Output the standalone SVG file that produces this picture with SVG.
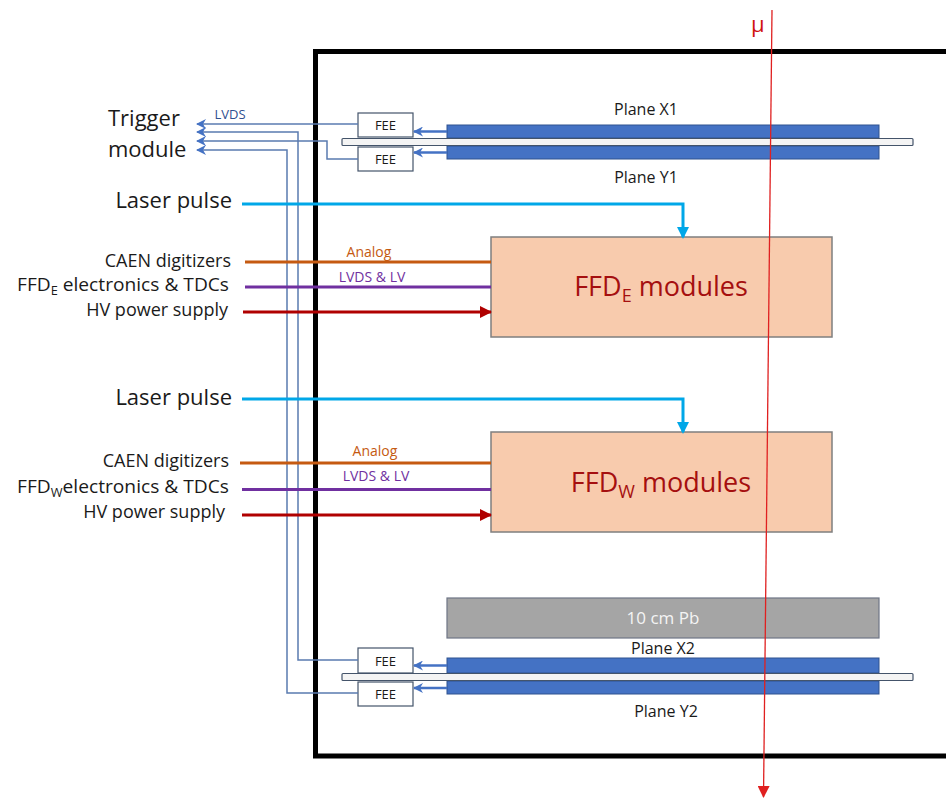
<svg xmlns="http://www.w3.org/2000/svg" width="946" height="798" viewBox="0 0 946 798">
<style>
text{font-family:"Open Sans","Liberation Sans",sans-serif;fill:#1a1a1a}
.lbl{font-size:18px;text-anchor:end}
.big{font-size:22px}
.fee{fill:#fff;stroke:#44546A;stroke-width:1.2}
.feet{font-size:13px;text-anchor:middle}
.plane{fill:#4472C4;stroke:#2F528F;stroke-width:1}
.bar{fill:#F4F4F4;stroke:#44546A;stroke-width:1.2}
.ffd{fill:#F8CBAD;stroke:#7F7F7F;stroke-width:1.5}
.ffdt{font-size:27px;fill:#A50F0F;text-anchor:middle}
.pl{font-size:16px;text-anchor:middle}
.trig{fill:none;stroke:#5A7BB0;stroke-width:1.5}
.pa{fill:none;stroke:#4472C4;stroke-width:2.5}
.laser{fill:none;stroke:#00A7E8;stroke-width:3}
.analog{stroke:#C55A11;stroke-width:3}
.lvds{stroke:#7030A0;stroke-width:3}
.hv{stroke:#B00000;stroke-width:3}
.small{font-size:14px;text-anchor:middle}
</style>
<defs>
<marker id="mBlue" markerUnits="userSpaceOnUse" markerWidth="10" markerHeight="10" refX="9" refY="5" orient="auto"><path d="M0,0 L10,5 L0,10 L3,5 Z" fill="#4472C4"/></marker>
<marker id="mLaser" markerUnits="userSpaceOnUse" markerWidth="12" markerHeight="12" refX="10" refY="6" orient="auto"><path d="M0,0 L12,6 L0,12 Z" fill="#00A7E8"/></marker>
<marker id="mRed" markerUnits="userSpaceOnUse" markerWidth="12" markerHeight="12" refX="11" refY="6" orient="auto"><path d="M0,0 L12,6 L0,12 Z" fill="#B00000"/></marker>
<marker id="mMu" markerUnits="userSpaceOnUse" markerWidth="12" markerHeight="12" refX="11" refY="6" orient="auto"><path d="M0,0 L12,6 L0,12 Z" fill="#E02020"/></marker>
</defs>
<rect width="946" height="798" fill="#fff"/>

<g id="enclosure">
<path d="M946,51.5 H315.5 V756 H946" fill="none" stroke="#000" stroke-width="5"/>
</g>

<g id="trigger-module">
<text class="big" x="108" y="126">Trigger</text>
<text class="big" x="108" y="157">module</text>
</g>

<g id="plane-x1">
<rect class="plane" x="447" y="125" width="432" height="13"/>
<text class="pl" x="646" y="115">Plane X1</text>
</g>
<g id="plane-y1">
<rect class="plane" x="447" y="146" width="432" height="13"/>
<text class="pl" x="646" y="183">Plane Y1</text>
</g>
<g id="bar-top"><rect class="bar" x="342" y="138.5" width="571" height="7" rx="1"/></g>
<g id="fee-x1"><rect class="fee" x="358" y="113" width="55" height="24"/><text class="feet" x="385.5" y="130">FEE</text></g>
<g id="fee-y1"><rect class="fee" x="358" y="147" width="55" height="24"/><text class="feet" x="385.5" y="164">FEE</text></g>

<g id="ffd-e">
<rect class="ffd" x="491" y="237" width="341" height="100"/>
<text class="ffdt" x="661" y="296">FFD<tspan font-size="18" dy="6">E</tspan><tspan dy="-6"> modules</tspan></text>
</g>
<g id="ffd-w">
<rect class="ffd" x="491" y="432" width="341" height="100"/>
<text class="ffdt" x="661" y="492">FFD<tspan font-size="18" dy="6">W</tspan><tspan dy="-6"> modules</tspan></text>
</g>

<g id="pb">
<rect x="447" y="598" width="432" height="40" fill="#A5A5A5" stroke="#6E7585" stroke-width="1.2"/>
<text x="663" y="624" font-size="17" fill="#F4F4F4" style="fill:#F4F4F4" text-anchor="middle">10 cm Pb</text>
</g>

<g id="plane-x2">
<rect class="plane" x="447" y="658" width="432" height="15"/>
<text class="pl" x="663" y="654">Plane X2</text>
</g>
<g id="plane-y2">
<rect class="plane" x="447" y="681" width="432" height="13"/>
<text class="pl" x="666" y="717">Plane Y2</text>
</g>
<g id="bar-bottom"><rect class="bar" x="342" y="673.5" width="571" height="7" rx="1"/></g>
<g id="fee-x2"><rect class="fee" x="358" y="648" width="55" height="25"/><text class="feet" x="385.5" y="665.5">FEE</text></g>
<g id="fee-y2"><rect class="fee" x="358" y="682" width="55" height="24"/><text class="feet" x="385.5" y="699">FEE</text></g>

<g id="sources-e">
<text class="big" x="232" y="208" text-anchor="end">Laser pulse</text>
<text class="lbl" x="231" y="267">CAEN digitizers</text>
<text class="lbl" x="229" y="291" textLength="212" lengthAdjust="spacingAndGlyphs">FFD<tspan font-size="12" dy="4">E</tspan><tspan dy="-4"> electronics &amp; TDCs</tspan></text>
<text class="lbl" x="228" y="316">HV power supply</text>
</g>
<g id="sources-w">
<text class="big" x="232" y="405" text-anchor="end">Laser pulse</text>
<text class="lbl" x="229" y="467">CAEN digitizers</text>
<text class="lbl" x="229" y="493" textLength="212" lengthAdjust="spacingAndGlyphs">FFD<tspan font-size="12" dy="4">W</tspan><tspan dy="-4">electronics &amp; TDCs</tspan></text>
<text class="lbl" x="225" y="518">HV power supply</text>
</g>

<g id="connectors">
<path class="trig" d="M358,124 H197" marker-end="url(#mBlue)"/>
<path class="trig" d="M358,660 H298 V132 H197" marker-end="url(#mBlue)"/>
<path class="trig" d="M358,159 H327 V141 H197" marker-end="url(#mBlue)"/>
<path class="trig" d="M358,693 H287 V150 H197" marker-end="url(#mBlue)"/>
<text x="230" y="119" font-size="13" fill="#2F4F8F" style="fill:#2F4F8F" text-anchor="middle">LVDS</text>

<path class="pa" d="M447,131.5 H414" marker-end="url(#mBlue)"/>
<path class="pa" d="M447,152.5 H414" marker-end="url(#mBlue)"/>
<path class="pa" d="M447,665.5 H414" marker-end="url(#mBlue)"/>
<path class="pa" d="M447,688 H414" marker-end="url(#mBlue)"/>

<path class="laser" d="M242,204 H683 V237" marker-end="url(#mLaser)"/>
<path class="laser" d="M242,399 H683 V432" marker-end="url(#mLaser)"/>

<line class="analog" x1="245" y1="262" x2="491" y2="262"/>
<line class="lvds" x1="245" y1="287" x2="491" y2="287"/>
<line class="hv" x1="243" y1="312" x2="491" y2="312" marker-end="url(#mRed)"/>
<text class="small" x="369" y="257" fill="#C55A11" style="fill:#C55A11">Analog</text>
<text class="small" x="372" y="282" fill="#7030A0" style="fill:#7030A0">LVDS &amp; LV</text>

<line class="analog" x1="240" y1="463" x2="491" y2="463"/>
<line class="lvds" x1="242" y1="489.5" x2="491" y2="489.5"/>
<line class="hv" x1="242" y1="515" x2="491" y2="515" marker-end="url(#mRed)"/>
<text class="small" x="375" y="456" fill="#C55A11" style="fill:#C55A11">Analog</text>
<text class="small" x="376" y="481" fill="#7030A0" style="fill:#7030A0">LVDS &amp; LV</text>
</g>

<g id="muon">
<line x1="772" y1="10" x2="763.5" y2="797" stroke="#E02020" stroke-width="1.3" marker-end="url(#mMu)"/>
<text x="751" y="32" font-size="22" fill="#D01010" style="fill:#D01010">μ</text>
</g>
</svg>
